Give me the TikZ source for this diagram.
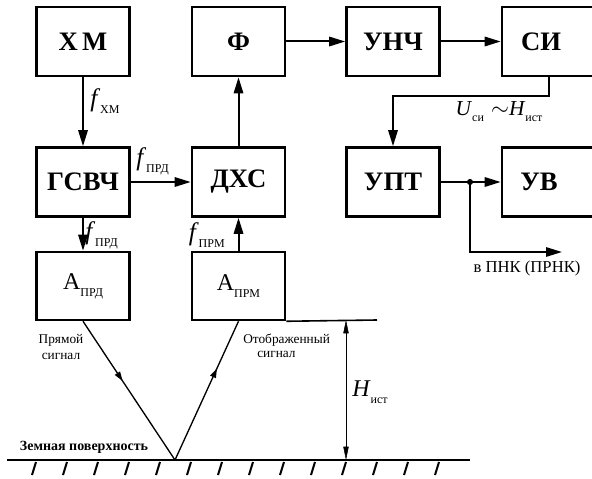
\documentclass[tikz,border=0pt]{standalone}
\usepackage{fontspec}
\setmainfont{Liberation Serif}
\usetikzlibrary{arrows.meta,decorations.markings}
% small lowered index after a symbol
\newcommand\lsub[1]{\raisebox{-0.28em}{\fontsize{9}{9}\selectfont\upshape #1}}
\begin{document}
\begin{tikzpicture}[x=0.75pt,y=-0.75pt,
  blk/.style={draw, line width=1.9pt, minimum width=69.75pt, minimum height=51.75pt,
              inner sep=0pt, font=\fontsize{20}{22}\selectfont\bfseries},
  ant/.style={draw, line width=1.9pt, minimum width=69.75pt, minimum height=51pt,
              inner sep=0pt, font=\fontsize{18}{20}\selectfont},
  boxtxt/.style={inner sep=0pt, font=\fontsize{20}{22}\selectfont\bfseries},
  arr/.style={line width=1.5pt, -{Triangle[length=12pt,width=7pt]}},
  sig/.style={line width=1pt,
              decoration={markings, mark=at position #1 with {\arrow{Triangle[length=7pt,width=4.5pt]}}},
              postaction={decorate}},
  lvl/.style={line width=1.2pt},
  dimline/.style={line width=0.4pt, {Triangle[length=10pt,width=4pt]}-{Triangle[length=10pt,width=4pt]}},
  hatch/.style={line width=1.5pt},
  gnd/.style={line width=1.6pt},
  flbl/.style={inner sep=0pt, font=\fontsize{19}{20}\selectfont},
  note/.style={inner sep=0pt, align=center, font=\fontsize{10}{12}\selectfont},
]
\useasboundingbox (0,0) rectangle (592,478);
\clip (0,0) rectangle (592,478);

% upper row of blocks
\node[blk] (xm)  at (83,41.5)    {Х\,М};
\node[blk] (ph)  at (238.5,41.5) {Ф};
\node[blk] (unch) at (393,41.5)  {УНЧ};
\node[blk, minimum width=70.5pt] (si) at (549,41.5) {};
\node[boxtxt] (sitxt) at (541,41.5) {СИ};

% middle row
\node[blk] (gsvch) at (83,182)    {ГСВЧ};
\node[blk] (dxs)   at (238.5,182) {ДХС};
\node[blk] (upt)   at (393,182)   {УПТ};
\node[blk, minimum width=70.5pt] (uv) at (549,182) {};
\node[boxtxt] (uvtxt) at (539,182) {УВ};

% antennas
\node[ant] (aprd) at (83,286)    {А\lsub{ПРД}};
\node[ant] (aprm) at (238.5,286) {А\lsub{ПРМ}};

% signal chain
\draw[arr] (xm) -- (gsvch);
\draw[arr] (gsvch) -- (dxs);
\draw[arr] (dxs) -- (ph);
\draw[arr] (ph) -- (unch);
\draw[arr] (unch) -- (si);
\draw[arr] (si.south) -- ++(0,19) -| (upt.north);
\draw[arr] (upt) -- (uv);
\draw[arr] (gsvch) -- (aprd);
\draw[arr] (aprm) -- (dxs);

% branch to the navigation complex
\coordinate (jn) at (470,182);
\coordinate (pnkend) at (562,252);
\fill (jn) circle (2.3pt);
\draw[arr] (jn) |- (pnkend);
\node[inner sep=0pt, font=\fontsize{12.5}{14}\selectfont] (pnk) at (527,268) {в ПНК (ПРНК)};

% labels on the connectors
\node[flbl, anchor=west] (fxm)  at (90,101)  {\textit{f}\lsub{ХМ}};
\node[flbl, anchor=west] (fprd) at (136,161) {\textit{f}\lsub{ПРД}};
\node[flbl, anchor=west] (fprd2) at (85,235) {\textit{f}\lsub{ПРД}};
\node[flbl, anchor=east] (fprm) at (225,235) {\textit{f}\lsub{ПРМ}};
\node[inner sep=0pt, font=\fontsize{16}{18}\selectfont] (usi) at (499,112)
  {\textit{U}\lsub{си}\,\,$\sim$\textit{H}\lsub{ист}};

% ground surface
\coordinate (gl) at (7,460);
\coordinate (gr) at (470,460);
\coordinate (gp) at (175,460);
\draw[gnd] (gl) -- (gr);
\foreach \x in {35,66,...,438}
  \draw[hatch] (\x+1,462) -- (\x-3,475);
\node[inner sep=0pt, font=\fontsize{10.5}{12}\selectfont\bfseries] (earth) at (84,447) {Земная поверхность};

% direct and reflected rays
\draw[sig=0.43] (aprd.south) -- (gp);
\draw[sig=0.66] (gp) -- (aprm.south);
\node[note] (direct) at (61,347) {Прямой\\сигнал};
\node[note, anchor=west] (refl1) at (243,340) {Отображенный};
\node[note, anchor=west] (refl2) at (257,354) {сигнал};

% altitude
\coordinate (lvlend) at (377,320);
\draw[lvl] (aprm.south east) -- (lvlend);
\coordinate (dtop) at (346,320);
\coordinate (dbot) at (346,460);
\draw[dimline] (dtop) -- (dbot);
\node[inner sep=0pt, font=\fontsize{18}{20}\selectfont] (hist) at (370,392) {\textit{H}\lsub{ист}};
\end{tikzpicture}
\end{document}
